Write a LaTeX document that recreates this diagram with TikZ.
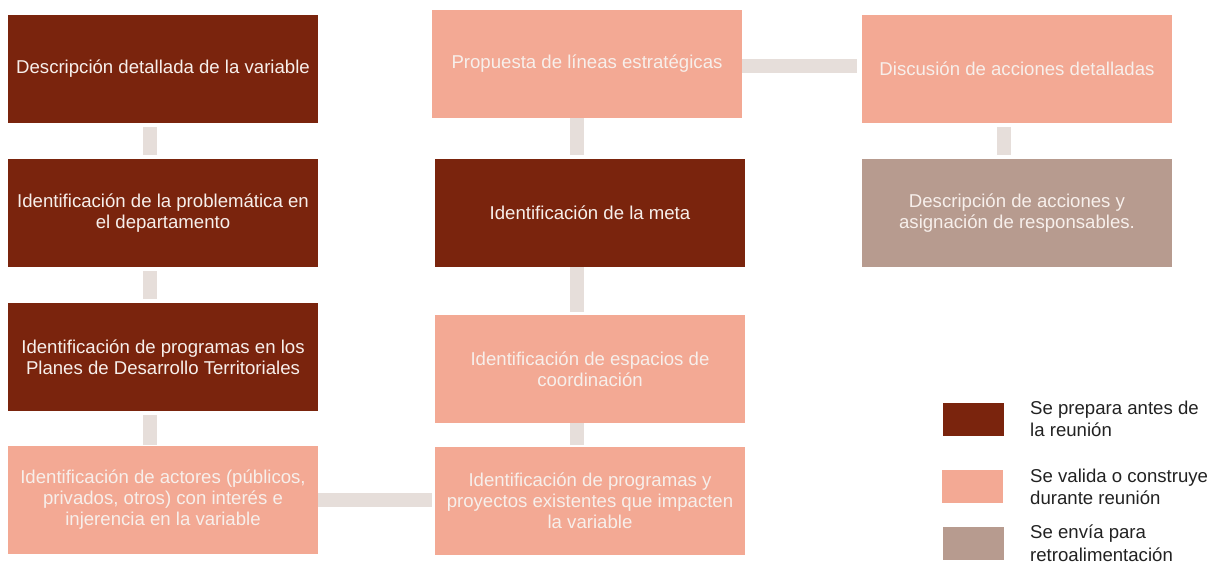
\documentclass[tikz,border=0pt]{standalone}
\usepackage{fontspec}
\setmainfont{Liberation Sans}
\usepackage{tikz}
\usetikzlibrary{calc}
\usepackage{xcolor}
\definecolor{prepcol}{HTML}{7A240D}
\definecolor{validcol}{HTML}{F3A994}
\definecolor{enviocol}{HTML}{B79B8F}
\definecolor{conncol}{HTML}{E6DEDA}
\definecolor{txtcol}{HTML}{F7EFEB}
\definecolor{legcol}{HTML}{222222}

\begin{document}
\begin{tikzpicture}[x=1pt,y=-1pt,
    box/.style={rectangle,inner sep=0pt,minimum width=310pt,minimum height=108pt,
        align=center,text=txtcol,font=\fontsize{18.6}{21}\selectfont},
    prep/.style={box,fill=prepcol},
    valid/.style={box,fill=validcol},
    envio/.style={box,fill=enviocol},
    conn/.style={draw=conncol,line width=14pt,line cap=butt},
    swatch/.style={rectangle,inner sep=0pt,minimum width=61pt,minimum height=33pt},
    legtext/.style={anchor=west,align=left,text=legcol,inner sep=0pt,
        font=\fontsize{18.6}{22.5}\selectfont}]
    \useasboundingbox (0,0) rectangle (1213,564);

    % Left column
    \node[prep] (desc) at (163,69) {Descripción detallada de la variable};
    \node[prep] (prob) at (163,213) {Identificación de la problemática en\\el departamento};
    \node[prep] (plan) at (163,357) {Identificación de programas en los\\Planes de Desarrollo Territoriales};
    \node[valid] (act) at (163,500) {Identificación de actores (públicos,\\privados, otros) con interés e\\injerencia en la variable};

    % Middle column
    \node[valid] (prop) at (587,64) {Propuesta de líneas estratégicas};
    \node[prep] (meta) at (590,213) {Identificación de la meta};
    \node[valid] (esp) at (590,369) {Identificación de espacios de\\coordinación};
    \node[valid] (prog) at (590,501) {Identificación de programas y\\proyectos existentes que impacten\\la variable};

    % Right column
    \node[valid] (disc) at (1017,69) {Discusión de acciones detalladas};
    \node[envio] (accion) at (1017,213) {Descripción de acciones y\\asignación de responsables.};

    % Connectors
    \begin{scope}[transform canvas={xshift=-13pt}]
    \draw[conn,shorten <=4pt,shorten >=4pt] (desc.south) -- (prob.north);
    \draw[conn,shorten <=4pt,shorten >=4pt] (prob.south) -- (plan.north);
    \draw[conn,shorten <=4pt,shorten >=1pt] (plan.south) -- (act.north);
    \draw[conn,shorten <=2pt] (prog.north) -- (esp.south);
    \draw[conn,shorten <=3pt] (esp.north) -- (meta.south);
    \draw[conn,shorten <=4pt] (meta.north) -- (meta.north |- prop.south);
    \draw[conn,shorten <=4pt,shorten >=4pt] (disc.south) -- (accion.north);
    \end{scope}
    \draw[conn,shorten >=3pt] (act.east) -- (act.east -| prog.west);
    \draw[conn,shorten >=5pt] ($(prop.east)+(0,2)$) -- ($(prop.east -| disc.west)+(0,2)$);

    % Legend
    \node[swatch,fill=prepcol] (sw1) at (973,419) {};
    \node[swatch,fill=validcol] (sw2) at (972,486) {};
    \node[swatch,fill=enviocol] (sw3) at (973,543) {};
    \node[legtext] (lg1) at (1030,419) {Se prepara antes de\\la reunión};
    \node[legtext] (lg2) at (1030,487) {Se valida o construye\\durante reunión};
    \node[legtext] (lg3) at (1030,543) {Se envía para\\retroalimentación};
\end{tikzpicture}
\end{document}
